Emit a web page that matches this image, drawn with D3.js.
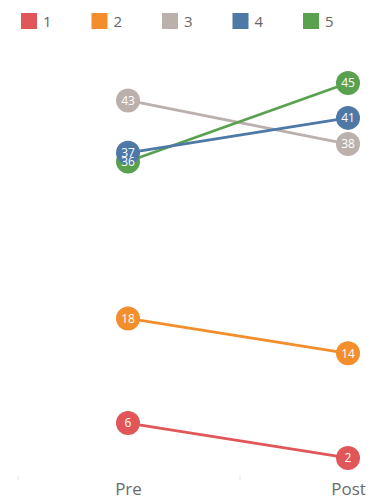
<!DOCTYPE html>
<html>
<head>
<meta charset="utf-8">
<script src="https://cdn.jsdelivr.net/npm/d3@7"></script>
<style>
  html, body { margin: 0; padding: 0; background: #fff; }
  svg { display: block; font-family: "Open Sans", "Noto Sans", sans-serif; }
</style>
</head>
<body>
<svg id="chart" width="370" height="500"></svg>
<script>
// Slope chart: value of each group before and after
const periods = ["Pre", "Post"];
const groups = ["1", "2", "3", "5", "4"];
const preValues = { "1": 6, "2": 18, "3": 43, "4": 37, "5": 36 };
const postValues = { "1": 2, "2": 14, "3": 38, "4": 41, "5": 45 };
const legendKeys = ["1", "2", "3", "4", "5"];
const groupColors = ["#e15759", "#f28e2b", "#bab0ac", "#4e79a7", "#59a14f"];

const svg = d3.select("#chart");

const color = d3.scaleOrdinal().domain(legendKeys).range(groupColors);

const x = d3.scalePoint().domain(periods).range([128, 348]);
const y = d3.scaleLinear().domain([0, 45]).range([475.4, 83]);

const series = groups.map(g => ({
  key: g,
  points: [
    { period: "Pre", value: preValues[g] },
    { period: "Post", value: postValues[g] }
  ]
}));

// Legend
const legend = svg.append("g");
const legendItem = legend.selectAll("g")
  .data(legendKeys)
  .join("g")
  .attr("transform", (d, i) => `translate(${21 + i * 70.5},13)`);
legendItem.append("rect")
  .attr("width", 16).attr("height", 16)
  .attr("fill", d => color(d));
legendItem.append("text")
  .attr("x", 22).attr("y", 14)
  .attr("font-size", 15)
  .attr("fill", "#666")
  .text(d => d);

// Faint column dividers at the bottom
svg.selectAll("line.div")
  .data([18, 240])
  .join("line")
  .attr("class", "div")
  .attr("x1", d => d).attr("x2", d => d)
  .attr("y1", 476).attr("y2", 480)
  .attr("stroke", "#e6e6e6").attr("stroke-width", 1);

// Period labels
const xAxis = svg.append("g")
  .attr("transform", "translate(0,475)")
  .call(d3.axisBottom(x).tickSize(0).tickPadding(5));
xAxis.select(".domain").remove();
xAxis.selectAll("text")
  .attr("font-size", 17)
  .attr("fill", "#6b6b6b")
  .attr("font-family", "\"Open Sans\", sans-serif")
  .attr("dy", "0.9em");

// Lines
const line = d3.line().x(d => x(d.period)).y(d => y(d.value));
svg.append("g").selectAll("path")
  .data(series)
  .join("path")
  .attr("d", d => line(d.points))
  .attr("fill", "none")
  .attr("stroke", d => color(d.key))
  .attr("stroke-width", 2.8);

// Point circles
const pts = series.flatMap(s => s.points.map(p => ({ key: s.key, ...p })));
svg.append("g").selectAll("circle")
  .data(pts)
  .join("circle")
  .attr("cx", d => x(d.period))
  .attr("cy", d => y(d.value))
  .attr("r", 12)
  .attr("fill", d => color(d.key));

// Value labels
svg.append("g").selectAll("text")
  .data(pts)
  .join("text")
  .attr("x", d => x(d.period))
  .attr("y", d => y(d.value))
  .attr("dy", "0.35em")
  .attr("text-anchor", "middle")
  .attr("font-size", 12)
  .attr("fill", "#fff")
  .text(d => d.value);
</script>
</body>
</html>
